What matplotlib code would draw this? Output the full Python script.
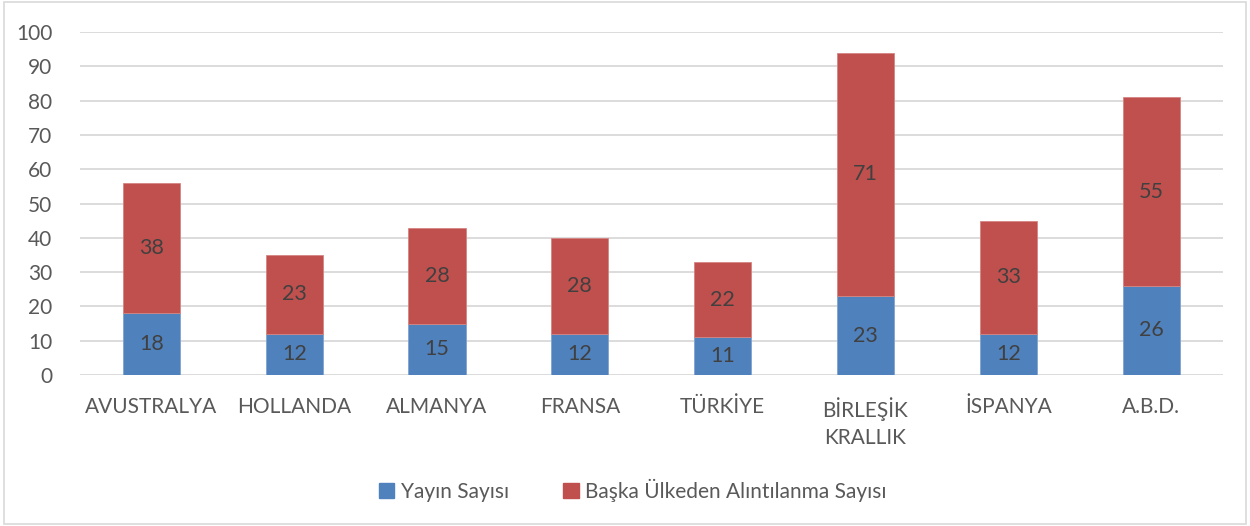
#!/usr/bin/env python3
"""Stacked bar chart: publications and foreign citations by country."""

import matplotlib
matplotlib.use('Agg')
import matplotlib.pyplot as plt
import matplotlib.patches as mpatches
import numpy as np

countries = ['AVUSTRALYA', 'HOLLANDA', 'ALMANYA', 'FRANSA', 'TÜRKİYE',
             'BİRLEŞİK\nKRALLIK', 'İSPANYA', 'A.B.D.']
yayin = [18, 12, 15, 12, 11, 23, 12, 26]
alinti = [38, 23, 28, 28, 22, 71, 33, 55]
series_names = ['Yayın Sayısı', 'Başka Ülkeden Alıntılanma Sayısı']

BLUE = '#4F81BD'
RED = '#C0504D'
TEXT = '#595959'
GRID = '#D9D9D9'

plt.rcParams['font.family'] = ['Lato', 'DejaVu Sans']

fig = plt.figure(figsize=(12.5, 5.26), dpi=100)
fig.patch.set_facecolor('white')
ax = fig.add_axes([0.064, 0.287, 0.914, 0.652])

x = np.arange(len(countries))
b1 = ax.bar(x, yayin, width=0.4, color=BLUE, edgecolor='#7FA3CF', linewidth=0.6, zorder=3)
b2 = ax.bar(x, alinti, width=0.4, bottom=yayin, color=RED, edgecolor='#D58582',
            linewidth=0.6, zorder=3)

for i in range(len(countries)):
    ax.text(x[i], yayin[i] / 2, str(yayin[i]), ha='center', va='center',
            fontsize=15.5, color='#404040', zorder=4)
    ax.text(x[i], yayin[i] + alinti[i] / 2, str(alinti[i]), ha='center',
            va='center', fontsize=15.5, color='#404040', zorder=4)

ax.set_xlim(-0.5, len(countries) - 0.5)
ax.set_ylim(0, 100)
ax.set_yticks(np.arange(0, 101, 10))
ax.set_xticks(x)
ax.set_xticklabels(countries, fontsize=15, color=TEXT, linespacing=1.45)
ax.tick_params(axis='y', labelsize=15, colors=TEXT, length=0, pad=20)
ax.tick_params(axis='x', length=0, pad=16)
ax.grid(axis='y', color=GRID, linewidth=1.3, zorder=0)
for s in ax.spines.values():
    s.set_visible(False)

handles = [mpatches.Patch(color=BLUE, label=series_names[0]),
           mpatches.Patch(color=RED, label=series_names[1])]
fig.legend(handles=handles, loc='center', bbox_to_anchor=(0.506, 0.068),
           ncol=2, frameon=False, fontsize=15, labelcolor=TEXT,
           handlelength=0.75, handleheight=0.75, handletextpad=0.3,
           columnspacing=2.6)

fig.add_artist(mpatches.Rectangle((0.003, 0.003), 0.994, 0.994,
                                  transform=fig.transFigure, fill=False,
                                  edgecolor=GRID, linewidth=1.2))

fig.savefig('out.png', dpi=100)
